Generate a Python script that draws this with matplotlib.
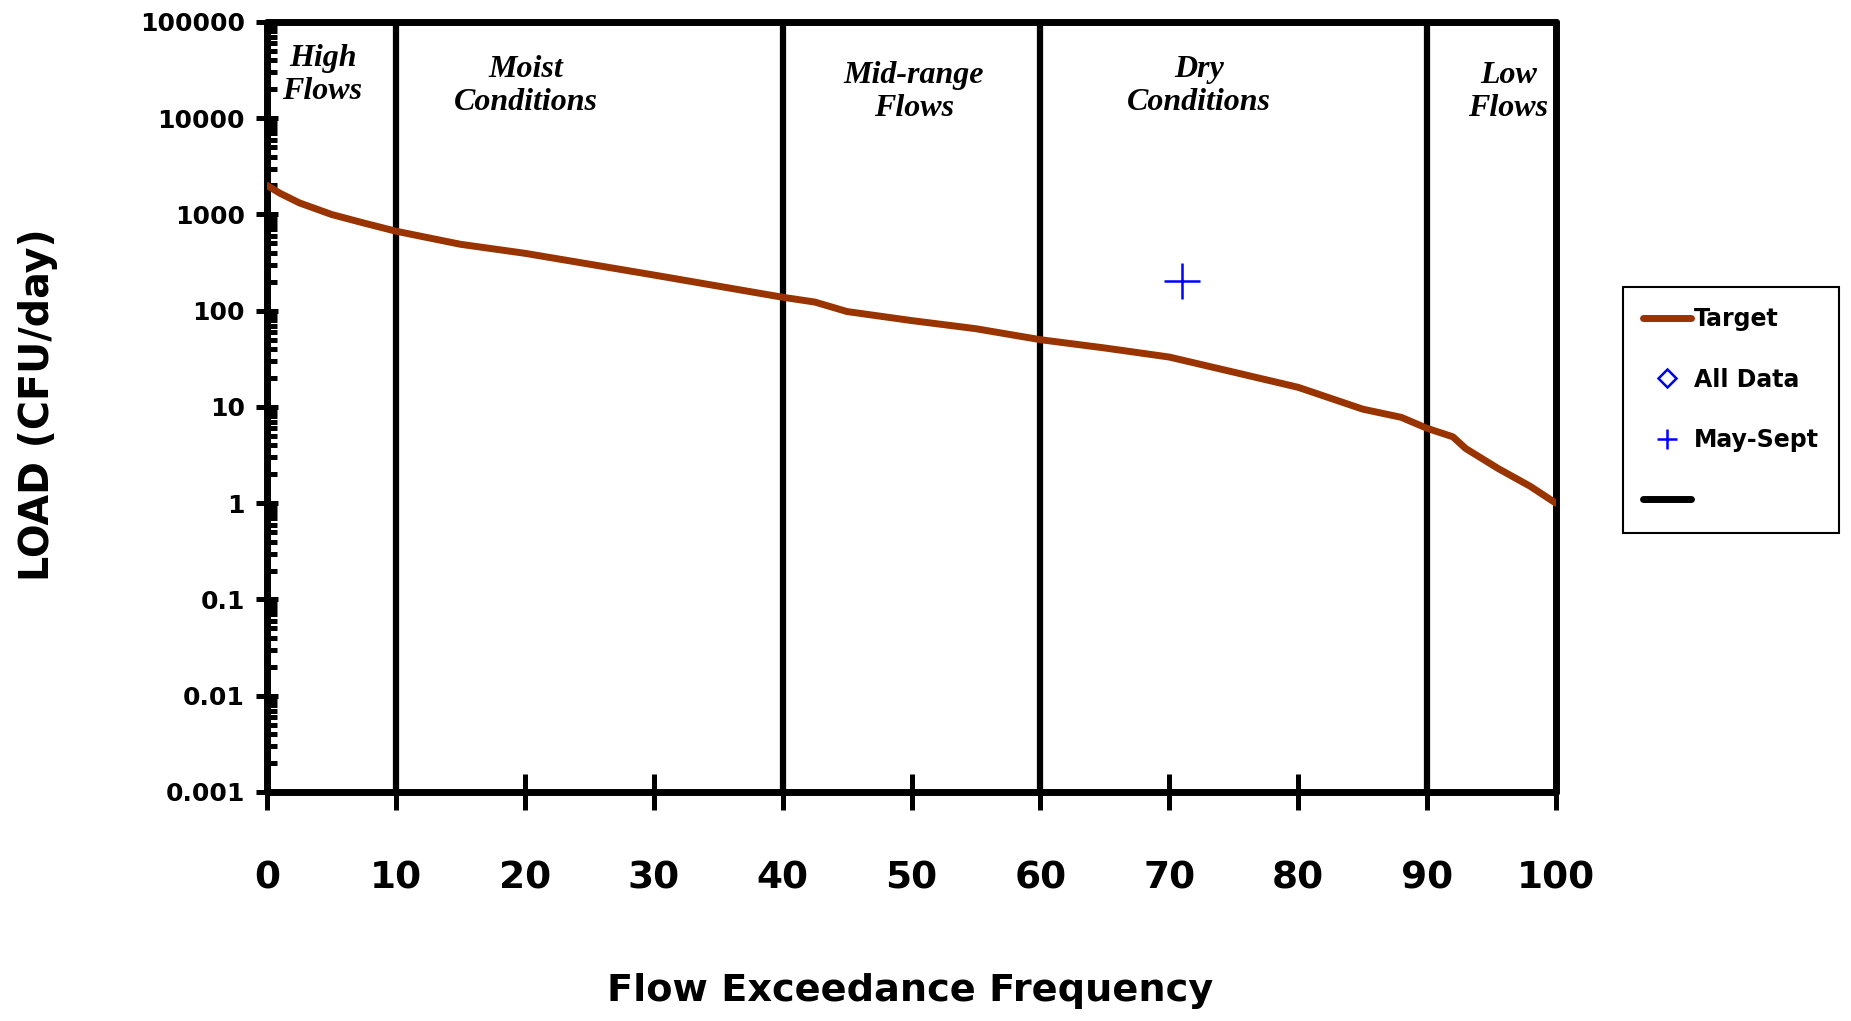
import numpy as np
import matplotlib
matplotlib.use("Agg")
import matplotlib.pyplot as plt
from matplotlib.ticker import FixedLocator, FuncFormatter, LogLocator, NullFormatter

# load duration curve (target), percent of time flow is exceeded
target_x = [0, 1, 2.5, 5, 7.5, 10, 15, 20, 30, 40, 42.5, 45, 50, 55, 60, 65, 70,
            75, 80, 85, 88, 90, 92, 93, 95.5, 98, 100]
target_y = [2000, 1660, 1320, 1000, 815, 670, 490, 395, 235, 138, 123, 98, 79, 65,
            50, 41, 33, 23, 16, 9.5, 7.8, 6.0, 4.9, 3.7, 2.3, 1.5, 1.0]

# observed loads
all_x = []
all_y = []
may_sept_x = [71]
may_sept_y = [205]

# flow zone boundaries and labels
zone_edges = [10, 40, 60, 90]
zone_names = ["High\nFlows", "Moist\nConditions", "Mid-range\nFlows", "Dry\nConditions", "Low\nFlows"]
zone_x = [4.3, 20.1, 50.2, 72.3, 96.3]
zone_y = [0.931, 0.917, 0.909, 0.917, 0.909]

ui_font = "DejaVu Sans"

fig = plt.figure(figsize=(18.51, 10.21), dpi=100)
ax = fig.add_axes([0.1443, 0.2243, 0.6963, 0.7542])

ax.plot(target_x, target_y, color="#993300", lw=5, solid_capstyle="round", label="Target", zorder=3)
ax.plot(all_x, all_y, ls="none", marker="D", ms=9, mfc="none", mec="blue", mew=1.8, label="All Data")
ax.plot(may_sept_x, may_sept_y, ls="none", marker="+", ms=26, mec="blue", mew=1.8, label="May-Sept", zorder=4)

for xe in zone_edges:
    ax.axvline(xe, color="black", lw=4.5, zorder=2)
# unlabelled black entry in the legend
ax.plot([], [], color="black", lw=5, solid_capstyle="round", label=" ")

for name, zx, zy in zip(zone_names, zone_x, zone_y):
    ax.text(zx, zy, name, transform=ax.get_xaxis_transform(), ha="center", va="center",
            family="Liberation Serif", style="italic", weight="bold", fontsize=23,
            linespacing=1.15)

ax.set_yscale("log")
ax.set_xlim(0, 100)
ax.set_ylim(0.001, 100000)

ax.xaxis.set_major_locator(FixedLocator(np.arange(0, 101, 10)))
ax.yaxis.set_major_locator(LogLocator(base=10, numticks=20))
ax.yaxis.set_minor_locator(LogLocator(base=10, subs=np.arange(2, 10), numticks=20))
ax.yaxis.set_major_formatter(FuncFormatter(lambda v, p: f"{v:g}"))
ax.yaxis.set_minor_formatter(NullFormatter())

for s in ax.spines.values():
    s.set_linewidth(5)
    s.set_capstyle("round")

ax.tick_params(axis="x", which="major", direction="inout", length=26, width=3.6, pad=36,
               labelsize=27)
ax.tick_params(axis="y", which="major", direction="inout", length=16, width=3.6, pad=8,
               labelsize=18)
ax.tick_params(axis="y", which="minor", direction="in", length=7, width=3.6)
for lab in ax.get_xticklabels() + ax.get_yticklabels():
    lab.set_fontweight("bold")
    lab.set_family(ui_font)

fig.text(0.4917, 0.029, "Flow Exceedance Frequency", ha="center", va="center",
         family=ui_font, weight="bold", fontsize=27.5)
fig.text(0.0204, 0.6035, "LOAD (CFU/day)", ha="center", va="center", rotation=90,
         family=ui_font, weight="bold", fontsize=28.5)

leg = ax.legend(loc="upper left", bbox_to_anchor=(0.877, 0.719), bbox_transform=fig.transFigure,
                frameon=True, fancybox=False, framealpha=1, edgecolor="black",
                prop={"family": ui_font, "weight": "bold", "size": 17},
                handlelength=2.0, handletextpad=0.15, labelspacing=1.55, borderpad=0.85,
                borderaxespad=0)
leg.get_frame().set_linewidth(1.5)
leg.legend_handles[2].set_markersize(15)

fig.savefig("out.png", dpi=100, facecolor="white")
